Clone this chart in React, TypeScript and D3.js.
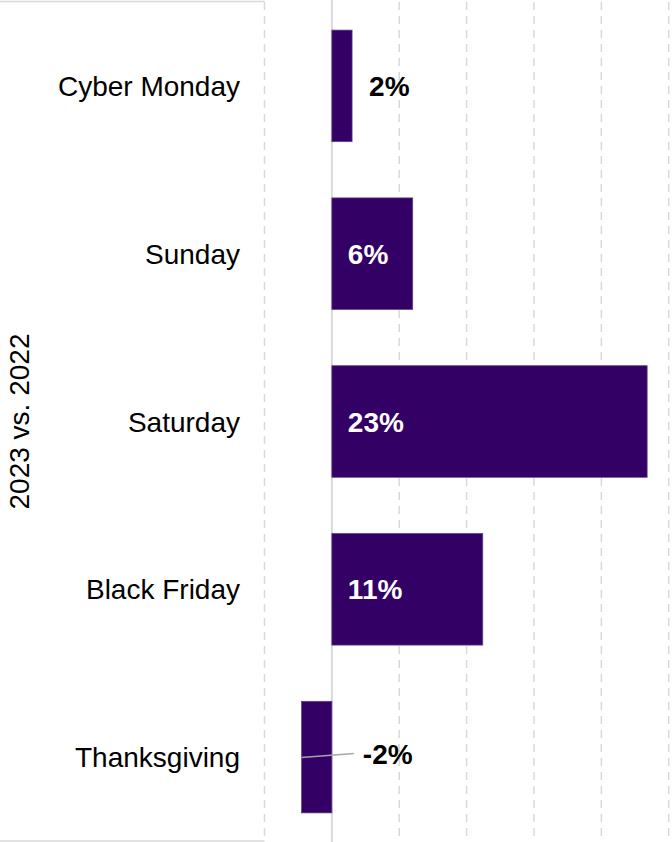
import React from "react";
import * as d3 from "d3";

const categories = ["Cyber Monday", "Sunday", "Saturday", "Black Friday", "Thanksgiving"];
const values = [1.5, 6.0, 23.4, 11.2, -2.25];
const gridTicks = [-5, 0, 5, 10, 15, 20, 25];
const axisTitle = "2023 vs. 2022";

const W = 672;
const H = 842;

export default function App() {
  const x = d3.scaleLinear().domain([-5, 25]).range([264.5, 668.7]);
  const y = d3
    .scaleBand<string>()
    .domain(categories)
    .range([2, 841])
    .paddingInner(0.335)
    .paddingOuter(0.1675);
  const fmt = (v: number) => `${Math.round(v)}%`;
  const font = "'Liberation Sans', Arial, sans-serif";
  const bw = y.bandwidth();

  return (
    <svg
      width={W}
      height={H}
      style={{ position: "absolute", left: 0, top: 0, background: "#fff" }}
      fontFamily={font}
    >
      {/* gridlines */}
      {gridTicks.map((t) => (
        <line
          key={t}
          x1={x(t)}
          x2={x(t)}
          y1={t === 0 ? 0 : 2}
          y2={H}
          stroke="#d9d9d9"
          strokeWidth={t === 0 ? 2 : 1.5}
          strokeDasharray={t === 0 ? undefined : "8,6"}
        />
      ))}
      {/* outer category frame lines */}
      <line x1={0} x2={x(-5)} y1={1.5} y2={1.5} stroke="#d9d9d9" strokeWidth={1.5} />
      <line x1={0} x2={x(-5)} y1={841} y2={841} stroke="#d9d9d9" strokeWidth={1.5} />

      {/* bars */}
      {categories.map((c, i) => {
        const v = values[i];
        const x0 = x(Math.min(0, v));
        const x1 = x(Math.max(0, v));
        return (
          <rect
            key={c}
            x={x0}
            y={y(c)}
            width={x1 - x0}
            height={bw}
            fill="#330066"
            stroke="#5e4190"
            strokeWidth={0.75}
          />
        );
      })}

      {/* category labels */}
      {categories.map((c) => (
        <text
          key={c}
          x={240}
          y={(y(c) ?? 0) + bw / 2}
          dy="0.36em"
          textAnchor="end"
          fontSize={28}
          fill="#000"
        >
          {c}
        </text>
      ))}

      {/* data labels */}
      {categories.map((c, i) => {
        const v = values[i];
        const cy = (y(c) ?? 0) + bw / 2;
        if (v < 0) {
          const lx = x(0) + 31;
          const ly = cy - 3.5;
          return (
            <g key={c}>
              <line
                x1={x(v)}
                y1={cy + 0.5}
                x2={lx - 9}
                y2={ly}
                stroke="#a6a6a6"
                strokeWidth={1.5}
              />
              <text x={lx} y={ly} dy="0.36em" fontSize={28} fontWeight="bold" fill="#000">
                {fmt(v)}
              </text>
            </g>
          );
        }
        if (v < 3) {
          return (
            <text key={c} x={x(v) + 17} y={cy} dy="0.36em" fontSize={28} fontWeight="bold" fill="#000">
              {fmt(v)}
            </text>
          );
        }
        return (
          <text key={c} x={x(0) + 16} y={cy} dy="0.36em" fontSize={28} fontWeight="bold" fill="#fff">
            {fmt(v)}
          </text>
        );
      })}

      {/* axis title */}
      <text
        transform={`translate(29, ${(2 + 841) / 2}) rotate(-90)`}
        textAnchor="middle"
        fontSize={28}
        fill="#000"
      >
        {axisTitle}
      </text>
    </svg>
  );
}
